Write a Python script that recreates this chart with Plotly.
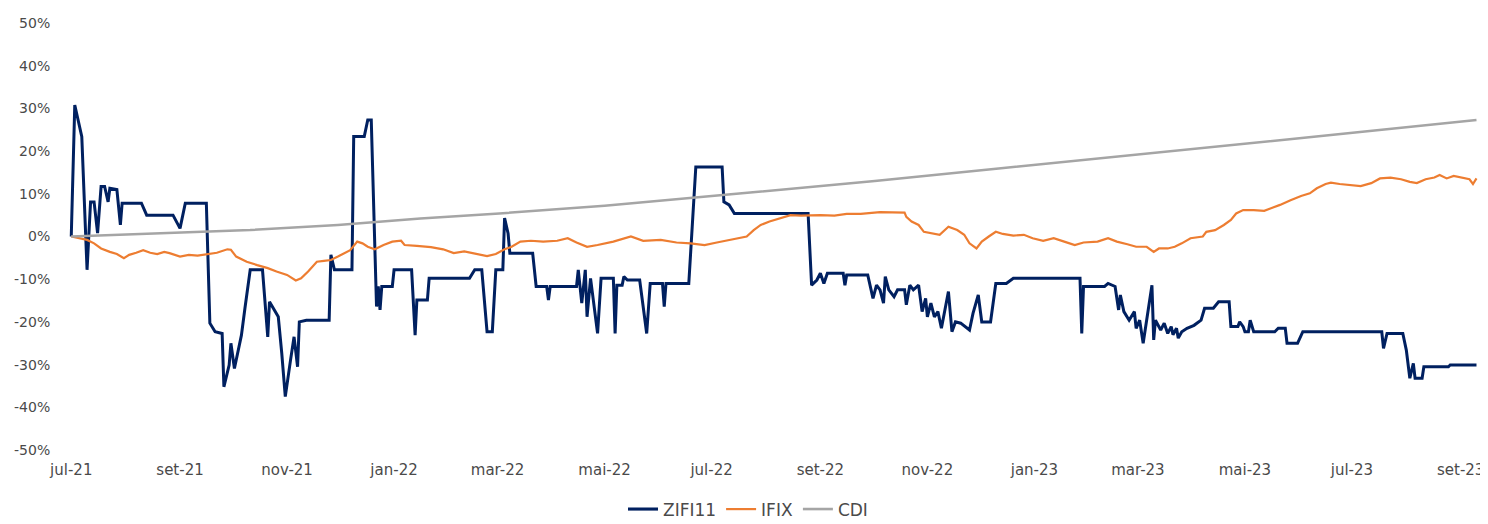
import plotly.graph_objects as go

# ---------------- data ----------------
zifi_dates = [
    "2021-07-01", "2021-07-03", "2021-07-07", "2021-07-10", "2021-07-12", "2021-07-14", "2021-07-16",
    "2021-07-18", "2021-07-20", "2021-07-22", "2021-07-23", "2021-07-27", "2021-07-29", "2021-07-30",
    "2021-08-10", "2021-08-13", "2021-08-28", "2021-09-01", "2021-09-04", "2021-09-16", "2021-09-18",
    "2021-09-21", "2021-09-25", "2021-09-26", "2021-09-29", "2021-09-30", "2021-10-02", "2021-10-06",
    "2021-10-08", "2021-10-11", "2021-10-18", "2021-10-21", "2021-10-22", "2021-10-27", "2021-10-29",
    "2021-10-31", "2021-11-03", "2021-11-05", "2021-11-07", "2021-11-08", "2021-11-12", "2021-11-25",
    "2021-11-26", "2021-11-28", "2021-12-08", "2021-12-09", "2021-12-15", "2021-12-17", "2021-12-19",
    "2021-12-22", "2021-12-23", "2021-12-24", "2021-12-25", "2021-12-31", "2022-01-01", "2022-01-11",
    "2022-01-13", "2022-01-14", "2022-01-20", "2022-01-21", "2022-02-13", "2022-02-16", "2022-02-20",
    "2022-02-23", "2022-02-26", "2022-02-28", "2022-03-04", "2022-03-05", "2022-03-07", "2022-03-08",
    "2022-03-21", "2022-03-23", "2022-03-29", "2022-03-30", "2022-03-31", "2022-04-15", "2022-04-16",
    "2022-04-18", "2022-04-20", "2022-04-21", "2022-04-23", "2022-04-27", "2022-04-29", "2022-05-06",
    "2022-05-07", "2022-05-08", "2022-05-11", "2022-05-12", "2022-05-14", "2022-05-21", "2022-05-25",
    "2022-05-27", "2022-06-03", "2022-06-04", "2022-06-05", "2022-06-18", "2022-06-22", "2022-07-07",
    "2022-07-08", "2022-07-11", "2022-07-14", "2022-08-25", "2022-08-27", "2022-08-30", "2022-09-01",
    "2022-09-03", "2022-09-05", "2022-09-14", "2022-09-15", "2022-09-16", "2022-09-28", "2022-10-01",
    "2022-10-03", "2022-10-05", "2022-10-07", "2022-10-08", "2022-10-10", "2022-10-13", "2022-10-15",
    "2022-10-19", "2022-10-20", "2022-10-22", "2022-10-24", "2022-10-27", "2022-10-29", "2022-10-31",
    "2022-11-01", "2022-11-03", "2022-11-05", "2022-11-07", "2022-11-09", "2022-11-11", "2022-11-13",
    "2022-11-15", "2022-11-17", "2022-11-20", "2022-11-25", "2022-11-27", "2022-11-30", "2022-12-02",
    "2022-12-07", "2022-12-10", "2022-12-16", "2022-12-20", "2023-01-27", "2023-01-28", "2023-01-29",
    "2023-02-10", "2023-02-12", "2023-02-16", "2023-02-18", "2023-02-19", "2023-02-21", "2023-02-24",
    "2023-02-27", "2023-02-28", "2023-03-02", "2023-03-04", "2023-03-06", "2023-03-09", "2023-03-10",
    "2023-03-11", "2023-03-14", "2023-03-16", "2023-03-18", "2023-03-20", "2023-03-21", "2023-03-23",
    "2023-03-24", "2023-03-26", "2023-03-29", "2023-04-02", "2023-04-06", "2023-04-08", "2023-04-13",
    "2023-04-16", "2023-04-22", "2023-04-23", "2023-04-27", "2023-04-28", "2023-04-30", "2023-05-01",
    "2023-05-03", "2023-05-04", "2023-05-06", "2023-05-18", "2023-05-20", "2023-05-24", "2023-05-25",
    "2023-05-31", "2023-06-03", "2023-07-18", "2023-07-19", "2023-07-21", "2023-07-30", "2023-08-01",
    "2023-08-03", "2023-08-05", "2023-08-06", "2023-08-10", "2023-08-11", "2023-08-25", "2023-08-26",
    "2023-09-10",
]
zifi_values = [
    0.0, 30.8, 23.4, -7.8, 8.1, 8.1, 0.8,
    11.7, 11.7, 8.1, 11.3, 11.0, 2.7, 7.8,
    7.8, 5.0, 5.0, 1.9, 7.8, 7.8, -20.3,
    -22.3, -22.7, -35.2, -30.1, -25.0, -30.9, -23.1,
    -16.8, -7.8, -7.8, -23.5, -15.3, -18.8, -27.4,
    -37.5, -28.9, -23.5, -30.5, -20.0, -19.6, -19.6,
    -4.3, -7.8, -7.8, 23.4, 23.4, 27.3, 27.3,
    -16.4, -11.7, -17.2, -11.7, -11.7, -7.8, -7.8,
    -23.1, -14.9, -14.9, -9.8, -9.8, -7.8, -7.8,
    -22.3, -22.3, -7.8, -7.8, 4.3, 0.7, -3.9,
    -3.9, -11.7, -11.7, -14.9, -11.7, -11.7, -7.8,
    -15.6, -7.8, -18.8, -9.8, -22.7, -9.8, -9.8,
    -22.7, -11.4, -11.4, -9.4, -10.2, -10.2, -22.7,
    -11.0, -11.0, -16.4, -11.0, -11.0, 16.3, 16.3,
    8.1, 7.4, 5.4, 5.4, -11.4, -10.2, -8.6,
    -11.0, -8.6, -8.6, -11.4, -9.0, -9.0, -14.5,
    -11.4, -12.5, -15.6, -9.4, -12.5, -14.1, -12.5,
    -12.5, -16.0, -11.4, -12.5, -11.4, -17.6, -14.5,
    -18.8, -15.6, -18.8, -17.6, -21.5, -17.6, -12.9,
    -22.3, -20.0, -20.3, -21.9, -18.0, -13.7, -20.0,
    -20.0, -11.0, -11.0, -9.8, -9.8, -22.7, -11.7,
    -11.7, -11.0, -11.7, -17.2, -13.7, -17.6, -19.6,
    -17.6, -21.5, -19.6, -25.0, -19.6, -11.4, -24.2,
    -19.6, -21.9, -20.3, -22.7, -21.1, -23.0, -21.5,
    -23.8, -22.3, -21.5, -20.8, -19.6, -16.8, -16.8,
    -15.3, -15.3, -21.1, -21.1, -20.0, -21.1, -22.3,
    -22.3, -19.6, -22.3, -22.3, -21.5, -21.5, -25.0,
    -25.0, -22.3, -22.3, -26.2, -22.7, -22.7, -26.6,
    -33.2, -29.7, -33.2, -33.2, -30.5, -30.5, -30.1,
    -30.1,
]

ifix_dates = [
    "2021-07-01", "2021-07-10", "2021-07-14", "2021-07-18", "2021-07-23", "2021-07-27", "2021-07-31",
    "2021-08-03", "2021-08-07", "2021-08-11", "2021-08-15", "2021-08-19", "2021-08-23", "2021-08-26",
    "2021-09-01", "2021-09-06", "2021-09-11", "2021-09-16", "2021-09-22", "2021-09-28", "2021-09-30",
    "2021-10-03", "2021-10-09", "2021-10-15", "2021-10-21", "2021-10-26", "2021-11-01", "2021-11-06",
    "2021-11-09", "2021-11-13", "2021-11-18", "2021-11-22", "2021-11-26", "2021-11-30", "2021-12-07",
    "2021-12-11", "2021-12-14", "2021-12-17", "2021-12-21", "2021-12-26", "2021-12-31", "2022-01-05",
    "2022-01-07", "2022-01-14", "2022-01-22", "2022-01-29", "2022-02-04", "2022-02-10", "2022-02-15",
    "2022-02-23", "2022-02-28", "2022-03-05", "2022-03-09", "2022-03-14", "2022-03-20", "2022-03-27",
    "2022-04-04", "2022-04-10", "2022-04-15", "2022-04-21", "2022-04-27", "2022-05-06", "2022-05-16",
    "2022-05-23", "2022-06-02", "2022-06-11", "2022-06-19", "2022-06-27", "2022-07-04", "2022-07-12",
    "2022-07-17", "2022-07-21", "2022-07-25", "2022-07-29", "2022-08-03", "2022-08-09", "2022-08-15",
    "2022-08-21", "2022-08-26", "2022-09-01", "2022-09-09", "2022-09-16", "2022-09-24", "2022-10-01",
    "2022-10-05", "2022-10-19", "2022-10-20", "2022-10-23", "2022-10-27", "2022-10-30", "2022-11-04",
    "2022-11-08", "2022-11-13", "2022-11-18", "2022-11-22", "2022-11-25", "2022-11-29", "2022-12-02",
    "2022-12-06", "2022-12-10", "2022-12-14", "2022-12-20", "2022-12-26", "2022-12-31", "2023-01-06",
    "2023-01-12", "2023-01-18", "2023-01-24", "2023-01-29", "2023-02-06", "2023-02-12", "2023-02-17",
    "2023-02-23", "2023-02-28", "2023-03-06", "2023-03-10", "2023-03-13", "2023-03-18", "2023-03-22",
    "2023-03-26", "2023-03-31", "2023-04-07", "2023-04-09", "2023-04-14", "2023-04-19", "2023-04-23",
    "2023-04-26", "2023-04-30", "2023-05-06", "2023-05-12", "2023-05-17", "2023-05-21", "2023-05-27",
    "2023-06-02", "2023-06-07", "2023-06-11", "2023-06-16", "2023-06-19", "2023-06-24", "2023-06-30",
    "2023-07-06", "2023-07-12", "2023-07-17", "2023-07-23", "2023-07-29", "2023-08-03", "2023-08-07",
    "2023-08-12", "2023-08-17", "2023-08-20", "2023-08-24", "2023-08-28", "2023-09-02", "2023-09-06",
    "2023-09-08", "2023-09-10",
]
ifix_values = [
    0.0, -0.8, -1.6, -2.8, -3.6, -4.1, -5.1,
    -4.3, -3.8, -3.2, -3.8, -4.1, -3.6, -3.9,
    -4.7, -4.3, -4.5, -4.1, -3.8, -3.0, -3.1,
    -4.7, -5.9, -6.7, -7.4, -8.2, -9.0, -10.3,
    -9.8, -8.2, -5.9, -5.7, -5.5, -4.7, -3.2,
    -1.2, -1.6, -2.4, -3.0, -2.0, -1.2, -1.0,
    -2.0, -2.2, -2.5, -3.0, -3.9, -3.5, -3.9,
    -4.6, -4.1, -3.0, -2.4, -1.2, -1.0, -1.2,
    -1.0, -0.4, -1.4, -2.4, -2.0, -1.2, 0.0,
    -1.0, -0.8, -1.4, -1.6, -2.0, -1.4, -0.8,
    -0.4, 0.0, 1.5, 2.7, 3.5, 4.3, 5.0,
    4.9, 5.0, 5.0, 4.9, 5.3, 5.3, 5.5,
    5.7, 5.6, 4.6, 3.5, 2.7, 1.1, 0.8,
    0.4, 2.3, 1.5, 0.4, -1.6, -2.8, -1.2,
    0.0, 1.1, 0.6, 0.2, 0.4, -0.4, -1.0,
    -0.4, -1.2, -2.0, -1.4, -1.2, -0.4, -1.2,
    -1.8, -2.4, -2.4, -3.6, -2.8, -2.8, -2.4,
    -1.6, -0.4, 0.0, 1.1, 1.5, 2.7, 3.9,
    5.4, 6.2, 6.2, 6.0, 6.8, 7.4, 8.5,
    9.5, 10.1, 11.3, 12.3, 12.6, 12.3, 12.1,
    11.8, 12.5, 13.6, 13.8, 13.4, 12.8, 12.5,
    13.4, 13.8, 14.4, 13.6, 14.2, 13.8, 13.4,
    12.3, 13.6,
]

cdi_dates = [
    "2021-07-01", "2021-08-09", "2021-09-16", "2021-10-11", "2021-11-30", "2022-01-16", "2022-03-02",
    "2022-05-01", "2022-07-23", "2022-10-02", "2022-12-13", "2023-03-05", "2023-06-01", "2023-09-10",
]
cdi_values = [
    0.0, 0.6, 1.1, 1.5, 2.7, 4.2, 5.4,
    7.2, 10.3, 13.0, 16.0, 19.3, 23.0, 27.3,
]

x_tick_dates = [
    "2021-07-01", "2021-09-01", "2021-11-01", "2022-01-01", "2022-03-01", "2022-05-01", "2022-07-01",
    "2022-09-01", "2022-11-01", "2023-01-01", "2023-03-01", "2023-05-01", "2023-07-01", "2023-09-01",
]
x_tick_labels = [
    "jul-21", "set-21", "nov-21", "jan-22", "mar-22", "mai-22", "jul-22",
    "set-22", "nov-22", "jan-23", "mar-23", "mai-23", "jul-23", "set-23",
]
y_tick_vals = [50, 40, 30, 20, 10, 0, -10, -20, -30, -40, -50]
y_tick_labels = ["50%", "40%", "30%", "20%", "10%", "0%", "-10%", "-20%", "-30%", "-40%", "-50%"]

# ---------------- figure ----------------
FONT = "DejaVu Sans"
GREY_TXT = "#4a4a4a"

fig = go.Figure()
fig.add_trace(go.Scatter(x=zifi_dates, y=zifi_values, mode="lines", name="ZIFI11",
                         line=dict(color="#002060", width=3)))
fig.add_trace(go.Scatter(x=ifix_dates, y=ifix_values, mode="lines", name="IFIX",
                         line=dict(color="#ED7D31", width=2.2)))
fig.add_trace(go.Scatter(x=cdi_dates, y=cdi_values, mode="lines", name="CDI",
                         line=dict(color="#A5A5A5", width=2.5)))

# the page body adds an 8 px offset, so the figure is 8 px smaller on each side
fig.update_layout(
    width=1480, height=516,
    margin=dict(l=58, r=8, t=15, b=74, autoexpand=False),
    paper_bgcolor="white", plot_bgcolor="white",
    font=dict(family=FONT, color=GREY_TXT, size=14),
    showlegend=True,
    legend=dict(orientation="h", xref="container", yref="container",
                x=0.5, xanchor="center", y=0.028, yanchor="middle",
                font=dict(family=FONT, size=17, color=GREY_TXT), bgcolor="rgba(0,0,0,0)"),
    xaxis=dict(type="date", range=["2021-06-28", "2023-09-12"], automargin=False,
               tickmode="array", tickvals=x_tick_dates, ticktext=x_tick_labels,
               showgrid=False, zeroline=False, showline=False,
               ticks="outside", ticklen=6, tickcolor="rgba(0,0,0,0)",
               tickfont=dict(family=FONT, size=15, color=GREY_TXT)),
    yaxis=dict(range=[-50, 50], automargin=False,
               tickmode="array", tickvals=y_tick_vals, ticktext=y_tick_labels,
               showgrid=False, zeroline=False, showline=False,
               ticks="outside", ticklen=12, tickcolor="rgba(0,0,0,0)",
               tickfont=dict(family=FONT, size=14, color=GREY_TXT)),
)

fig.write_html("out.html")
